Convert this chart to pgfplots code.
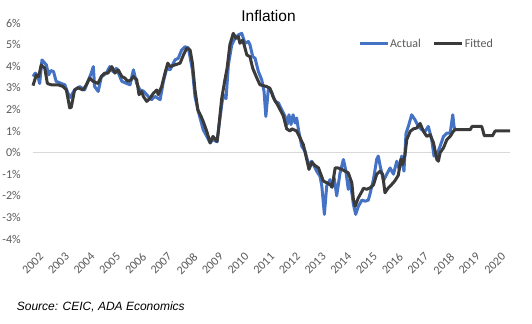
\documentclass[border=0pt]{standalone}
\usepackage{pgfplots}
\pgfplotsset{compat=1.18}
\usepackage{pgfplotstable}
\usepackage{fontspec}
\setmainfont{Carlito}
\newfontfamily\arialfont{Liberation Sans}
\definecolor{actblue}{HTML}{4472C4}
\definecolor{fitgray}{HTML}{3A3A3A}
\definecolor{ticktext}{HTML}{595959}
\definecolor{gridgray}{HTML}{D9D9D9}

\pgfplotstableread{
year value
2002.00 3.10
2002.13 3.60
2002.22 3.52
2002.32 4.06
2002.46 3.90
2002.56 3.20
2002.71 3.14
2002.97 3.14
2003.17 3.06
2003.30 2.90
2003.43 2.07
2003.49 2.10
2003.62 2.90
2003.75 3.00
2003.95 2.90
2004.08 3.14
2004.21 3.45
2004.34 3.30
2004.53 3.20
2004.66 3.52
2004.79 3.68
2004.92 3.68
2005.00 3.83
2005.07 3.98
2005.19 3.68
2005.32 3.83
2005.46 3.52
2005.58 3.45
2005.69 3.30
2005.82 3.37
2005.91 3.52
2006.04 3.37
2006.13 2.68
2006.23 2.83
2006.30 2.60
2006.43 2.37
2006.56 2.52
2006.69 2.75
2006.82 2.90
2006.88 2.68
2007.01 3.06
2007.14 3.68
2007.25 4.14
2007.34 3.98
2007.53 4.06
2007.73 4.14
2007.86 4.52
2007.99 4.83
2008.12 4.75
2008.21 4.14
2008.31 2.90
2008.42 1.98
2008.55 1.67
2008.63 1.44
2008.77 0.98
2008.90 0.45
2009.01 0.75
2009.17 0.52
2009.22 1.00
2009.35 2.50
2009.48 3.40
2009.56 3.90
2009.67 5.00
2009.80 5.52
2009.91 5.29
2010.00 5.37
2010.06 5.06
2010.17 5.21
2010.26 4.83
2010.33 4.52
2010.45 4.44
2010.56 3.90
2010.72 3.45
2010.84 3.14
2011.10 3.06
2011.23 2.98
2011.36 2.55
2011.56 2.14
2011.75 1.70
2011.88 1.10
2012.01 1.00
2012.08 1.10
2012.27 1.00
2012.34 0.83
2012.53 0.37
2012.60 0.00
2012.66 -0.30
2012.75 -0.78
2012.86 -0.45
2012.99 -0.60
2013.12 -0.71
2013.31 -1.32
2013.45 -1.40
2013.57 -1.48
2013.65 -1.60
2013.77 -0.71
2013.88 -0.71
2014.03 -0.78
2014.16 -0.86
2014.28 -0.94
2014.42 -1.40
2014.48 -2.17
2014.55 -2.48
2014.67 -2.10
2014.81 -1.80
2014.87 -1.65
2015.00 -1.70
2015.13 -1.63
2015.26 -1.50
2015.39 -1.00
2015.52 -0.86
2015.62 -1.00
2015.71 -1.86
2015.84 -1.63
2015.97 -1.48
2016.10 -1.30
2016.23 -1.05
2016.33 -0.30
2016.40 -0.55
2016.49 -0.10
2016.56 0.60
2016.69 0.98
2016.82 1.10
2016.95 1.14
2017.08 1.35
2017.21 0.98
2017.34 0.75
2017.47 0.83
2017.60 0.45
2017.73 -0.32
2017.79 -0.40
2017.86 0.00
2017.99 0.22
2018.12 0.60
2018.25 0.75
2018.37 0.98
2018.44 1.06
2019.03 1.06
2019.10 1.21
2019.48 1.21
2019.58 0.78
2019.90 0.78
2020.00 1.00
2020.58 1.00
}\fitted

\pgfplotstableread{
year value
2002.00 3.52
2002.09 3.68
2002.19 3.52
2002.26 3.20
2002.35 4.29
2002.52 4.06
2002.61 3.60
2002.70 3.80
2002.80 3.75
2002.90 3.30
2003.10 3.20
2003.24 3.14
2003.36 2.75
2003.45 2.55
2003.62 2.90
2003.82 3.06
2004.01 2.90
2004.14 3.30
2004.27 3.68
2004.35 3.98
2004.40 3.06
2004.54 2.83
2004.66 3.50
2004.86 3.68
2004.99 3.98
2005.12 3.75
2005.25 3.90
2005.46 3.30
2005.65 3.20
2005.78 3.14
2005.91 3.83
2006.04 3.20
2006.17 2.90
2006.30 2.85
2006.49 2.60
2006.62 2.45
2006.75 2.60
2006.95 2.45
2007.08 3.30
2007.21 3.90
2007.34 3.83
2007.53 4.29
2007.66 4.37
2007.79 4.75
2007.92 4.90
2008.05 4.85
2008.21 3.83
2008.31 2.60
2008.44 1.90
2008.63 1.06
2008.77 0.75
2008.90 0.45
2009.01 0.60
2009.17 0.50
2009.22 1.00
2009.35 2.20
2009.41 2.68
2009.52 2.50
2009.61 4.06
2009.74 4.98
2009.87 5.30
2010.00 5.45
2010.13 5.52
2010.26 5.06
2010.39 5.14
2010.45 5.00
2010.56 4.44
2010.65 4.37
2010.78 3.75
2010.91 3.37
2011.00 2.83
2011.07 1.67
2011.17 2.98
2011.30 2.80
2011.43 2.37
2011.56 2.30
2011.69 1.98
2011.82 1.67
2011.90 1.30
2011.97 1.75
2012.05 1.30
2012.13 1.75
2012.21 1.37
2012.27 1.60
2012.34 1.06
2012.47 0.29
2012.60 0.06
2012.73 -0.55
2012.86 -0.40
2013.05 -0.86
2013.18 -1.10
2013.25 -1.55
2013.35 -2.86
2013.44 -1.55
2013.57 -1.25
2013.64 -1.60
2013.73 -1.17
2013.83 -2.00
2013.96 -0.94
2014.09 -0.32
2014.18 -0.80
2014.28 -1.70
2014.35 -1.25
2014.48 -2.40
2014.57 -2.86
2014.67 -2.50
2014.81 -2.20
2014.94 -2.25
2015.06 -2.20
2015.13 -1.90
2015.26 -1.25
2015.39 -0.30
2015.45 -0.16
2015.52 -0.60
2015.65 -1.30
2015.78 -1.00
2015.91 -0.71
2016.04 -1.00
2016.17 -0.40
2016.27 -0.78
2016.36 -0.16
2016.45 -0.86
2016.53 0.90
2016.62 1.21
2016.75 1.75
2016.88 1.52
2017.01 1.21
2017.14 1.06
2017.27 0.98
2017.40 1.21
2017.53 0.60
2017.62 -0.16
2017.73 -0.10
2017.86 0.30
2017.99 0.75
2018.12 0.90
2018.25 0.90
2018.35 1.75
2018.40 1.21
2018.44 1.06
}\actual

\begin{document}
\begin{tikzpicture}
\path[use as bounding box] (-33bp,-85bp) rectangle (499bp,239bp);
\begin{axis}[
  at={(0,0)}, anchor=south west,
  scale only axis, width=477bp, height=216bp,
  xmin=2002, xmax=2020.58, ymin=-4, ymax=6,
  axis line style={draw=none},
  major tick length=0pt, tick style={draw=none},
  xtick={2002,2003,2004,2005,2006,2007,2008,2009,2010,2011,2012,2013,2014,2015,2016,2017,2018,2019,2020},
  xticklabels={2002,2003,2004,2005,2006,2007,2008,2009,2010,2011,2012,2013,2014,2015,2016,2017,2018,2019,2020},
  ytick={-4,-3,-2,-1,0,1,2,3,4,5,6},
  yticklabels={-4\%,-3\%,-2\%,-1\%,0\%,1\%,2\%,3\%,4\%,5\%,6\%},
  extra y ticks={0}, extra y tick labels={},
  extra y tick style={grid=major, major grid style={draw=gridgray, line width=0.9bp}},
  ticklabel style={font=\fontsize{12bp}{14bp}\selectfont, text=ticktext},
  yticklabel style={anchor=east, inner sep=0pt, xshift=-12bp},
  xticklabel style={rotate=45, anchor=north east, inner sep=0pt, xshift=-5bp, yshift=-13bp},
  legend style={at={(0.681,0.903)}, anchor=west, draw=none, fill=none, inner sep=0pt,
    font=\fontsize{12bp}{14bp}\selectfont, text=ticktext,
    nodes={inner sep=1bp}, legend columns=2,
    /tikz/every even column/.append style={column sep=11bp}},
  legend image code/.code={\draw[#1] (0bp,0bp) -- (28bp,0bp);},
  clip=false,
]
\addplot[actblue, line width=3bp, line join=round] table[x=year, y=value] {\actual};
\addlegendentry{Actual}
\addplot[fitgray, line width=3bp, line join=round] table[x=year, y=value] {\fitted};
\addlegendentry{Fitted}
\end{axis}
\node[anchor=base, font=\arialfont\fontsize{15.5bp}{18bp}\selectfont, text=black] at (235.5bp,217bp) {Inflation};
\node[anchor=base west, inner sep=0pt, font=\arialfont\itshape\fontsize{12bp}{14bp}\selectfont, text=black] at (-16.3bp,-71.7bp) {Source: CEIC, ADA Economics};
\end{tikzpicture}
\end{document}
